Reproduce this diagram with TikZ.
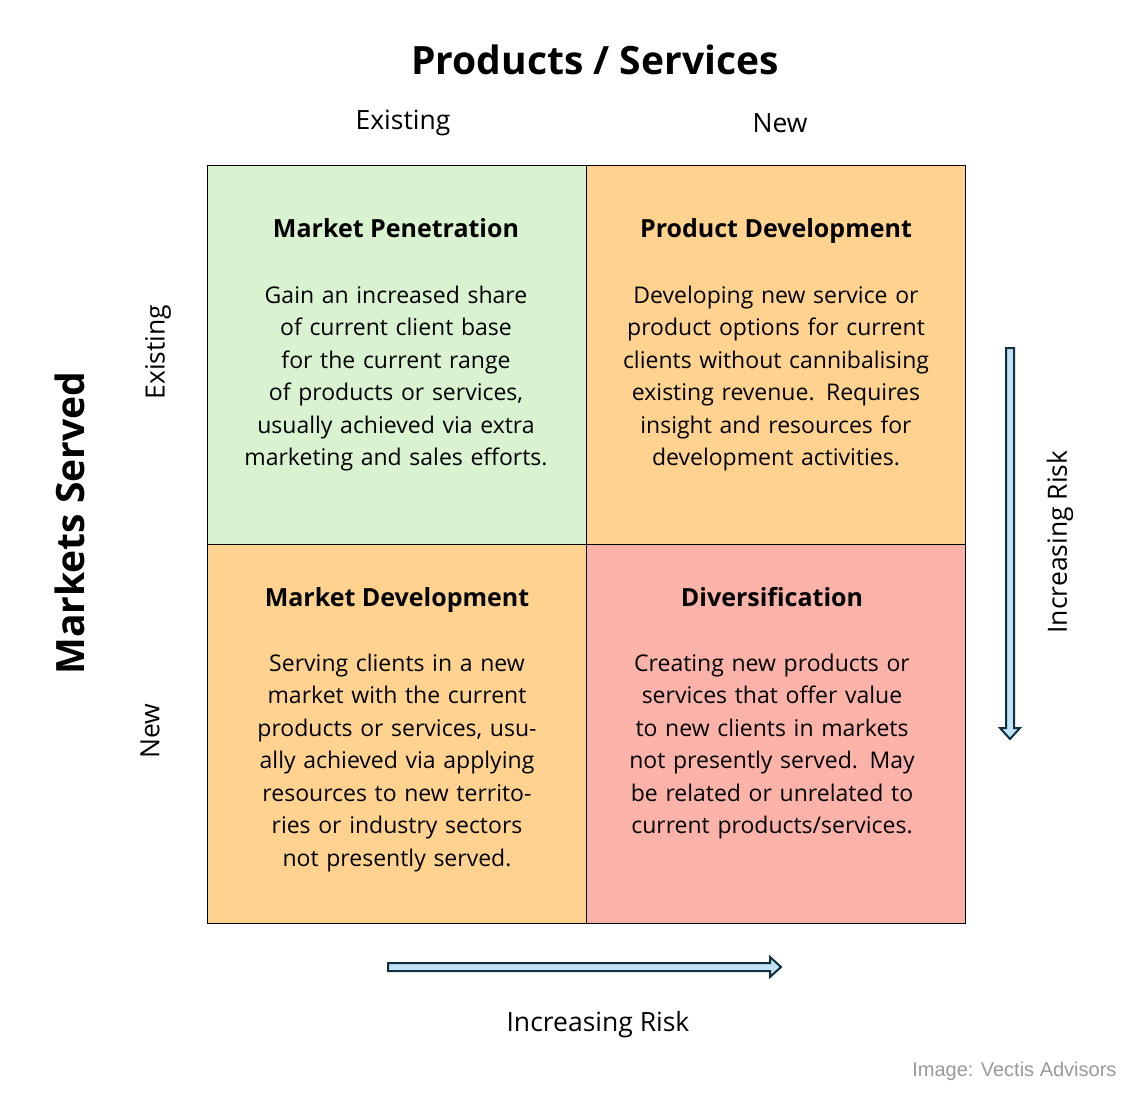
\documentclass[tikz,border=0pt]{standalone}
\usepackage{fontspec}
\setmainfont{Open Sans}
\newfontfamily\credfont{Liberation Sans}
\newcommand\nohy{\hyphenpenalty=10000\exhyphenpenalty=10000\relax}
\begin{document}
\begin{tikzpicture}[x=1pt,y=-1pt,
  quad/.style={draw=black,line width=0.6pt,minimum width=379pt,minimum height=379pt,anchor=north west,inner sep=0pt},
  head/.style={font=\fontsize{25}{30}\selectfont\bfseries,anchor=base},
  body/.style={font=\fontsize{23}{32.5}\selectfont,align=center,text width=318pt,anchor=north},
  lab/.style={font=\fontsize{26.5}{30}\selectfont},
  big/.style={font=\fontsize{39}{44}\selectfont\bfseries}]
\definecolor{qgreen}{HTML}{D9F2D0}
\definecolor{qorange}{HTML}{FFD38F}
\definecolor{qred}{HTML}{FBB2A9}
\definecolor{arrowfill}{HTML}{C0E4F5}
\definecolor{arrowline}{HTML}{10303F}
\useasboundingbox (0,0) rectangle (1146,1110);
\node[quad,fill=qgreen] (q1) at (207,165) {};
\node[quad,fill=qorange] (q2) at (586,165) {};
\node[quad,fill=qorange] (q3) at (207,544) {};
\node[quad,fill=qred] (q4) at (586,544) {};
\node[big] (title) at (595,60) {Products / Services};
\node[lab] (ce) at (403,123) {Existing};
\node[lab] (cn) at (780,123) {New};
\node[big,rotate=90] (ms) at (70,523) {Markets Served};
\node[lab,rotate=90] (re) at (158,352) {Existing};
\node[lab,rotate=90] (rn) at (150,731) {New};
\node[head] (h1) at (396,238) {Market Penetration};
\node[head] (h2) at (776,238) {Product Development};
\node[head] (h3) at (397,606) {Market Development};
\node[head] (h4) at (772,606) {Diversification};
\node[body] (b1) at (396,282) {\nohy Gain an increased share of current client base for the current range of products or services, usually achieved via extra marketing and sales efforts.};
\node[body] (b2) at (776,282) {\nohy Developing new service or product options for current clients without cannibalising existing revenue. Requires insight and resources for development activities.};
\node[body,text width=305pt] (b3) at (397,650) {\nohy Serving clients in a new market with the current products or services, usually achieved via applying resources to new territories or industry sectors not presently served.};
\node[body] (b4) at (772,650) {\nohy Creating new products or services that offer value to new clients in markets not presently served. May be related or unrelated to current products/services.};
\draw[draw=arrowline,fill=arrowfill,line width=2pt] (1006,348) -- (1014,348) -- (1014,728) -- (1020,728) -- (1010,739) -- (1000,728) -- (1006,728) -- cycle;
\draw[draw=arrowline,fill=arrowfill,line width=2pt] (388,963) -- (770,963) -- (770,957) -- (781,967) -- (770,977) -- (770,971) -- (388,971) -- cycle;
\node[lab] (rh) at (598,1025) {Increasing Risk};
\node[lab,rotate=90] (rv) at (1060,542) {Increasing Risk};
\node[font=\credfont\fontsize{20}{24}\selectfont,text=black!40,anchor=east] (cred) at (1120,1071) {Image: Vectis Advisors};
\end{tikzpicture}
\end{document}
